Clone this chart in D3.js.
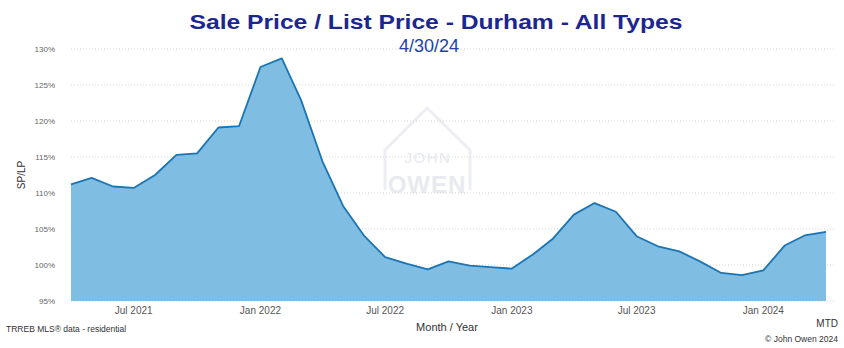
<!DOCTYPE html>
<html>
<head>
<meta charset="utf-8">
<script src="https://cdn.jsdelivr.net/npm/d3@7"></script>
<style>
  body { margin: 0; background: #fff; }
  svg { display: block; font-family: "Liberation Sans", Arial, sans-serif; }
</style>
</head>
<body>
<svg id="chart"></svg>
<script>
// monthly SP/LP ratio, Apr 2021 .. Apr 2024
const MONTHS = ["2021-04","2021-05","2021-06","2021-07","2021-08","2021-09","2021-10","2021-11","2021-12",
  "2022-01","2022-02","2022-03","2022-04","2022-05","2022-06","2022-07","2022-08","2022-09","2022-10","2022-11","2022-12",
  "2023-01","2023-02","2023-03","2023-04","2023-05","2023-06","2023-07","2023-08","2023-09","2023-10","2023-11","2023-12",
  "2024-01","2024-02","2024-03","2024-04"];
const SPLP = [111.2, 112.1, 110.9, 110.7, 112.5, 115.3, 115.5, 119.1, 119.3,
  127.5, 128.7, 122.9, 114.4, 108.2, 104.0, 101.1, 100.2, 99.4, 100.5, 99.9, 99.7,
  99.5, 101.5, 103.6, 107.0, 108.6, 107.4, 104.0, 102.6, 101.9, 100.5, 98.9, 98.6,
  99.25, 102.7, 104.1, 104.6];
const Y_TICKS = [95, 100, 105, 110, 115, 120, 125, 130];
const X_TICKS = ["2021-07","2022-01","2022-07","2023-01","2023-07","2024-01"];

var width = 844, height = 348;
var parseMonth = d3.timeParse("%Y-%m");
var data = MONTHS.map(function(m, i) { return { date: parseMonth(m), v: SPLP[i] }; });

var svg = d3.select("#chart").attr("width", width).attr("height", height);

var x = d3.scaleTime()
  .domain(d3.extent(data, function(d) { return d.date; }))
  .range([71, 826]);
var y = d3.scaleLinear().domain([95, 130]).range([301, 49]);

/********* WATERMARK ***********/
var wm = svg.append("g").attr("fill", "none").attr("stroke", "#eceef3");
wm.append("path")
  .attr("d", "M385,190 L385,150 L427,108 L470,150 L470,190")
  .attr("stroke-width", 3);
wm.append("text").attr("x", 428).attr("y", 163)
  .attr("text-anchor", "middle").attr("stroke", "none").attr("fill", "#e8eaf0")
  .style("font-size", "15px").style("letter-spacing", "1.5px").text("JOHN");
wm.append("text").attr("x", 427).attr("y", 193)
  .attr("text-anchor", "middle").attr("stroke", "none").attr("fill", "#e8eaf0")
  .style("font-size", "24px").style("font-weight", "bold").style("letter-spacing", "1px").text("OWEN");

/********* GRID + Y AXIS ***********/
svg.append("g")
  .selectAll("line")
  .data(Y_TICKS)
  .enter()
  .append("line")
    .attr("x1", 71).attr("x2", 836)
    .attr("y1", function(d) { return y(d); })
    .attr("y2", function(d) { return y(d); })
    .attr("stroke", "#d6d6d6")
    .attr("stroke-width", 1)
    .attr("stroke-dasharray", "1,2");

svg.append("g")
  .selectAll("text")
  .data(Y_TICKS)
  .enter()
  .append("text")
    .attr("x", 55)
    .attr("y", function(d) { return y(d) + 3; })
    .attr("text-anchor", "end")
    .attr("fill", "#666")
    .style("font-size", "8px")
    .text(function(d) { return d + "%"; });

/********* AREA + LINE ***********/
svg.append("path")
  .datum(data)
  .attr("d", d3.area()
    .x(function(d) { return x(d.date); })
    .y0(y(95))
    .y1(function(d) { return y(d.v); }))
  .attr("fill", "#7fbde2");

svg.append("path")
  .datum(data)
  .attr("d", d3.line()
    .x(function(d) { return x(d.date); })
    .y(function(d) { return y(d.v); }))
  .attr("fill", "none")
  .attr("stroke", "#1b74b3")
  .attr("stroke-width", 1.8)
  .attr("stroke-linejoin", "round");

/********* X AXIS ***********/
var fmt = d3.timeFormat("%b %Y");
svg.append("g")
  .selectAll("text")
  .data(X_TICKS)
  .enter()
  .append("text")
    .attr("x", function(d) { return x(parseMonth(d)); })
    .attr("y", 314)
    .attr("text-anchor", "middle")
    .attr("fill", "#555")
    .style("font-size", "10px")
    .text(function(d) { return fmt(parseMonth(d)); });

/********* TITLES + LABELS ***********/
svg.append("text")
  .attr("x", 436).attr("y", 29)
  .attr("text-anchor", "middle")
  .attr("fill", "#1c2690")
  .attr("textLength", 493).attr("lengthAdjust", "spacingAndGlyphs")
  .style("font-size", "21px").style("font-weight", "bold")
  .text("Sale Price / List Price - Durham - All Types");

svg.append("text")
  .attr("x", 429).attr("y", 52)
  .attr("text-anchor", "middle")
  .attr("fill", "#2242a8")
  .style("font-size", "18px")
  .text("4/30/24");

svg.append("text")
  .attr("transform", "translate(25,175) rotate(-90)")
  .attr("text-anchor", "middle")
  .attr("fill", "#333")
  .style("font-size", "10px")
  .text("SP/LP");

svg.append("text")
  .attr("x", 447).attr("y", 331)
  .attr("text-anchor", "middle")
  .attr("fill", "#333")
  .style("font-size", "11px")
  .text("Month / Year");

svg.append("text")
  .attr("x", 6).attr("y", 332)
  .attr("fill", "#333")
  .style("font-size", "8.5px")
  .text("TRREB MLS® data - residential");

svg.append("text")
  .attr("x", 838).attr("y", 327)
  .attr("text-anchor", "end")
  .attr("fill", "#333")
  .style("font-size", "10px")
  .text("MTD");

svg.append("text")
  .attr("x", 838).attr("y", 342)
  .attr("text-anchor", "end")
  .attr("fill", "#333")
  .style("font-size", "8.5px")
  .text("© John Owen 2024");
</script>
</body>
</html>
